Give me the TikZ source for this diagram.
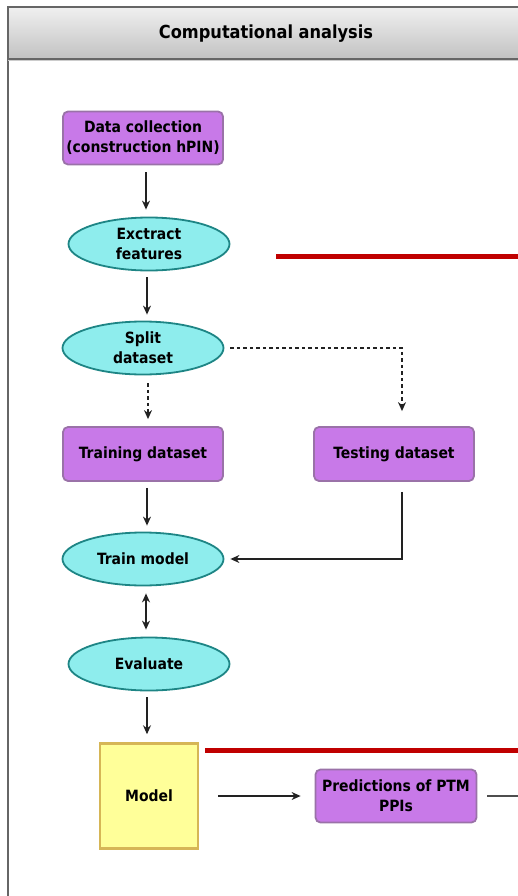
\documentclass[tikz,border=0pt]{standalone}
\usepackage{fontspec}
\setmainfont{DejaVu Sans Condensed}[BoldFont={DejaVu Sans Condensed Bold}]
\usetikzlibrary{shapes.geometric,arrows.meta}
\definecolor{procfill}{HTML}{C879E8}
\definecolor{procdraw}{HTML}{9A72A8}
\definecolor{ovalfill}{HTML}{8EEDED}
\definecolor{ovaldraw}{HTML}{1E8585}
\definecolor{modelfill}{HTML}{FFFF99}
\definecolor{modeldraw}{HTML}{D6B656}
\definecolor{frameline}{HTML}{666666}
\definecolor{redbar}{HTML}{C00000}
\definecolor{linkgray}{HTML}{222222}
\tikzset{
  lbl/.style={font=\bfseries\fontsize{15.5}{20}\selectfont, align=center, text=black},
  procbox/.style={lbl, rectangle, rounded corners=5pt, fill=procfill, draw=procdraw,
    line width=1.8pt, minimum width=160pt, minimum height=53pt, inner sep=0pt},
  ovalbox/.style={lbl, ellipse, fill=ovalfill, draw=ovaldraw, line width=1.8pt,
    minimum width=161pt, minimum height=53pt, inner sep=0pt},
  modelbox/.style={lbl, rectangle, fill=modelfill, draw=modeldraw, line width=2.5pt,
    minimum width=98pt, minimum height=105pt, inner sep=0pt},
  link/.style={draw=linkgray, line width=1.2pt, -{Stealth[length=9pt,width=8pt]}},
  dlink/.style={link, dash pattern=on 3.5pt off 3pt},
  barline/.style={draw=redbar, line width=5pt},
}
\begin{document}
\begin{tikzpicture}[x=1pt, y=-1pt]
  \useasboundingbox (0,0) rectangle (518,896);
  % header band and frame
  \shade[top color=black!6, bottom color=black!24] (8,7) rectangle (520,59);
  \draw[frameline, line width=1.5pt] (8,900) -- (8,7) -- (520,7);
  \draw[frameline, line width=1.5pt] (8,59) -- (520,59);
  \draw[black!20, line width=1pt] (8,61) -- (520,61);
  \node[font=\bfseries\fontsize{18}{20}\selectfont] (title) at (266,34) {Computational analysis};

  % nodes
  \node[procbox] (collect) at (143,138) {Data collection\\(construction hPIN)};
  \node[ovalbox] (extract) at (149,244) {Exctract\\features};
  \node[ovalbox] (split) at (143,348) {Split\\dataset};
  \node[procbox, minimum height=54pt] (train) at (143,454) {Training dataset};
  \node[procbox, minimum height=54pt] (test) at (394,454) {Testing dataset};
  \node[ovalbox] (trainmodel) at (143,559) {Train model};
  \node[ovalbox] (evaluate) at (149,664) {Evaluate};
  \node[modelbox] (model) at (149,796) {Model};
  \node[procbox, minimum width=161pt] (pred) at (396,796) {Predictions of PTM\\PPIs};

  \coordinate (redA) at (276,256);
  \coordinate (redAend) at (520,256);
  \coordinate (redB) at (205,750);
  \coordinate (redBend) at (520,750);
  \coordinate (predout) at (520,796);

  % red bars
  \draw[barline] (redA) -- (redAend);
  \draw[barline] (redB) -- (redBend);

  % connectors
  \draw[link] ([yshift=-7pt]collect.south -| 146,0) -- ([yshift=7pt]extract.north -| 146,0);
  \draw[link] ([yshift=-6pt]extract.south -| 147,0) -- ([yshift=6pt]split.north -| 147,0);
  \draw[dlink] ([yshift=-8pt]split.south -| 148,0) -- ([yshift=7pt]train.north -| 148,0);
  \draw[dlink] ([xshift=6pt]split.east) -| ([yshift=15pt]test.north -| 402,0);
  \draw[link] ([yshift=-6pt]train.south -| 147,0) -- ([yshift=6pt]trainmodel.north -| 147,0);
  \draw[link] ([yshift=-10pt]test.south -| 402,0) |- ([xshift=6pt]trainmodel.east);
  \draw[link, {Stealth[length=9pt,width=8pt]}-{Stealth[length=9pt,width=8pt]}]
    ([yshift=-7pt]trainmodel.south -| 146,0) -- ([yshift=7pt]evaluate.north -| 146,0);
  \draw[link] ([yshift=-6pt]evaluate.south -| 147,0) -- ([yshift=8pt]model.north -| 147,0);
  \draw[link] ([xshift=19pt]model.east) -- ([xshift=-14pt]pred.west);
  \draw[draw=linkgray!80, line width=1.2pt] ([xshift=10pt]pred.east) -- (predout);
\end{tikzpicture}
\end{document}
